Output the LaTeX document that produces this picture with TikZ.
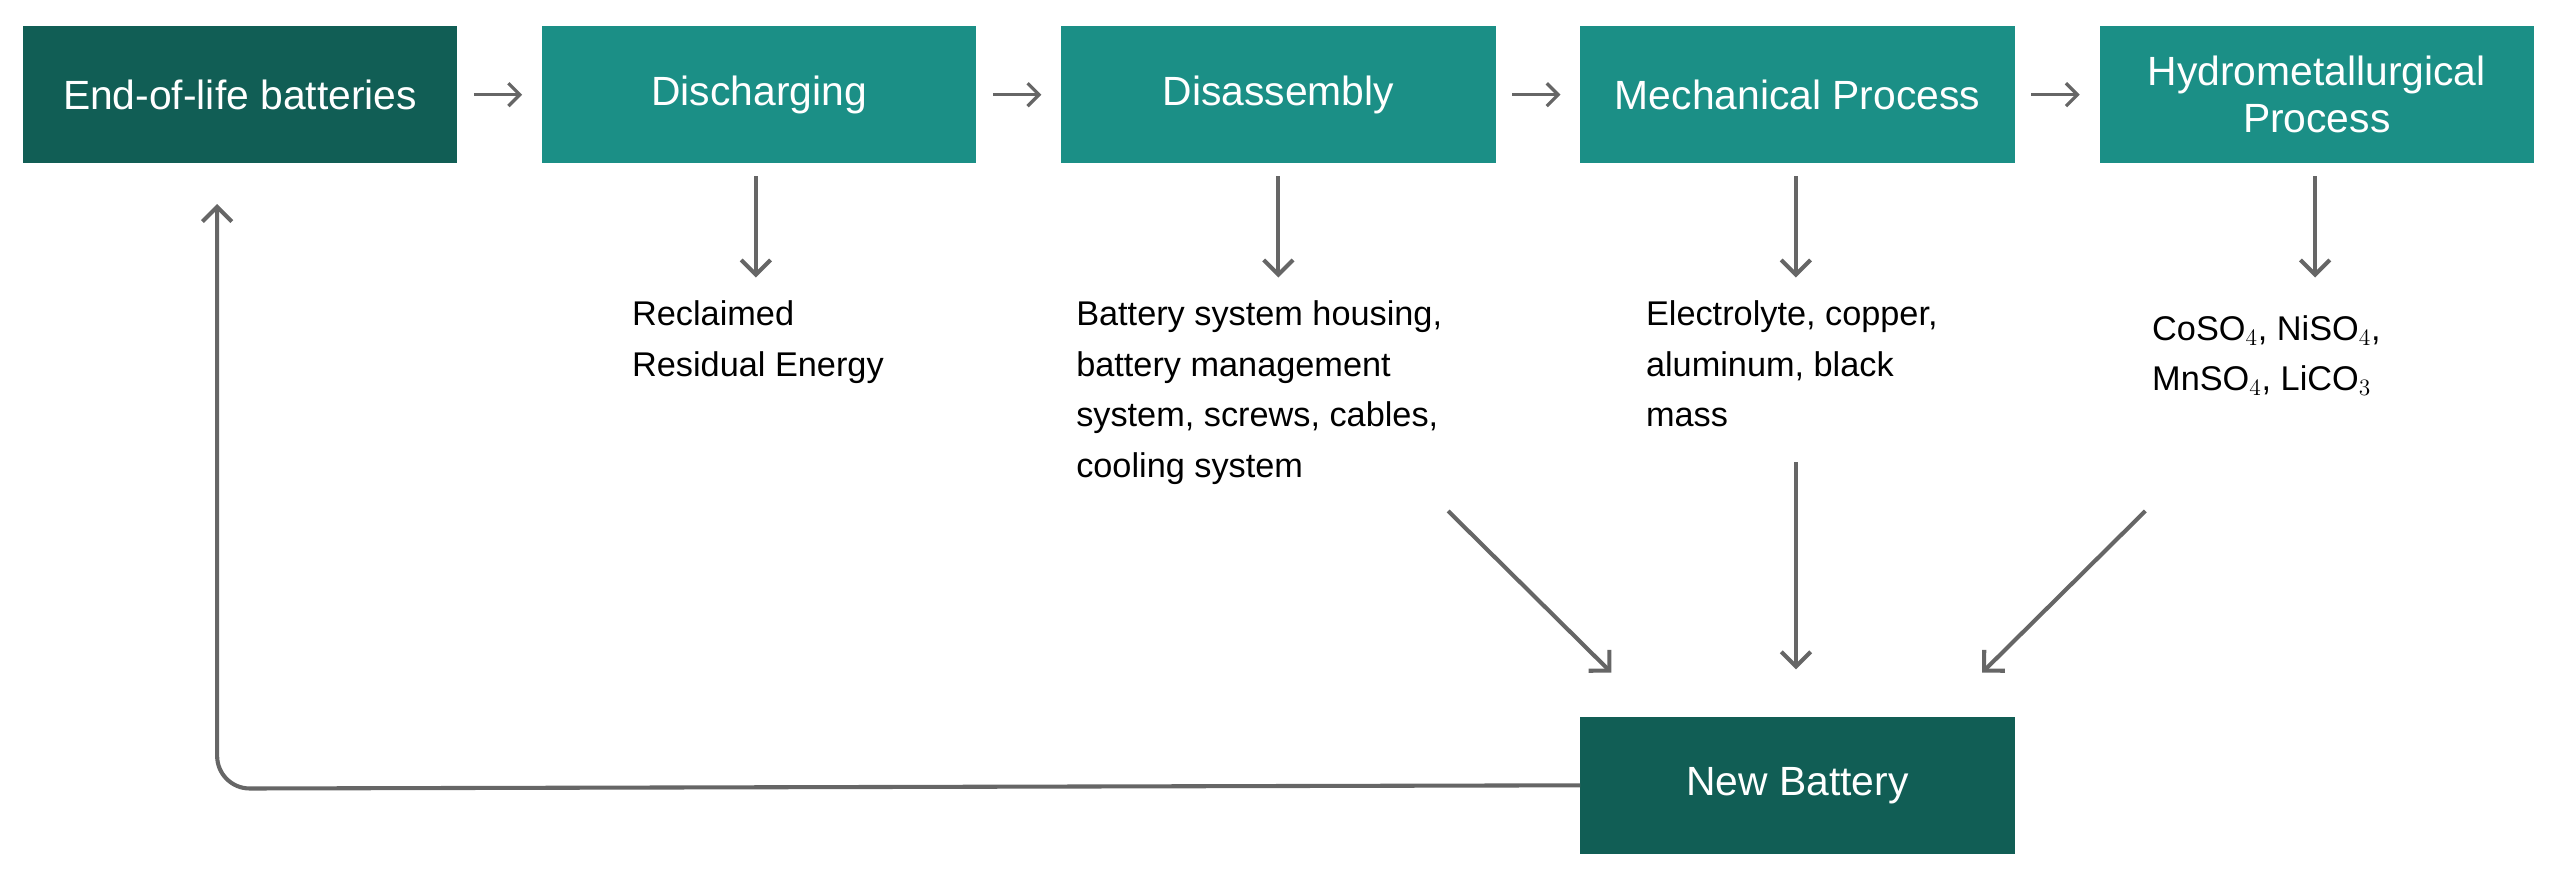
\documentclass[tikz,border=0pt]{standalone}
\usepackage{fontspec}
\setmainfont{Liberation Sans}
\usetikzlibrary{arrows.meta}
\definecolor{teal1}{HTML}{1B8F86}
\definecolor{dark1}{HTML}{115E55}
\definecolor{gr}{HTML}{666666}
\begin{document}
\begin{tikzpicture}[x=1pt,y=-1pt,
 box/.style={fill=teal1,minimum width=266pt,minimum height=84pt,text=white,font=\fontsize{25}{29}\selectfont,align=center,inner sep=0pt},
 dbox/.style={box,fill=dark1},
 arr/.style={draw=gr,line width=2.5pt,-{Straight Barb[length=9pt,width=18pt,line width=2.5pt]}},
 sarr/.style={draw=gr,line width=2pt,-{Straight Barb[length=7pt,width=14pt,line width=2pt]}},
 txt/.style={font=\fontsize{21}{31}\selectfont,align=left,anchor=north west,inner sep=0pt}]
\useasboundingbox (0,0) rectangle (1568,540);
\node[dbox] (b1) at (147,58) {End-of-life batteries};
\node[box] (b2) at (465,58) {Discharging};
\node[box] (b3) at (783,58) {Disassembly};
\node[box] (b4) at (1101,58) {Mechanical Process};
\node[box] (b5) at (1419,58) {Hydrometallurgical\\Process};
\node[dbox] (nb) at (1101,481) {New Battery};
\foreach \a/\b in {b1/b2,b2/b3,b3/b4,b4/b5}{
  \draw[sarr] ([xshift=10pt]\a.east) -- ([xshift=-12pt]\b.west);}
\node[txt] (t2) at (387,184) {Reclaimed\\Residual Energy};
\node[txt] (t3) at (659,184) {Battery system housing,\\battery management\\system, screws, cables,\\cooling system};
\node[txt] (t4) at (1008,184) {Electrolyte, copper,\\aluminum, black\\mass};
\node[txt] (t5) at (1318,193) {CoSO$_4$, NiSO$_4$,\\MnSO$_4$, LiCO$_3$};
\foreach \b/\x in {b2/463,b3/783,b4/1100,b5/1418}{
  \coordinate (s\b) at (\x,108); \coordinate (e\b) at (\x,170);
  \draw[arr] (s\b) -- (e\b);}
\coordinate (d1) at (887,313); \coordinate (d1e) at (987,412);
\coordinate (d2) at (1100,283); \coordinate (d2e) at (1100,410);
\coordinate (d3) at (1314,313); \coordinate (d3e) at (1214,412);
\draw[arr] (d1) -- (d1e);
\draw[arr] (d2) -- (d2e);
\draw[arr] (d3) -- (d3e);
\coordinate (r1) at (133,483); \coordinate (r2) at (133,125);
\draw[arr,rounded corners=20pt] (nb.west) -- (r1) -- (r2);
\end{tikzpicture}
\end{document}
